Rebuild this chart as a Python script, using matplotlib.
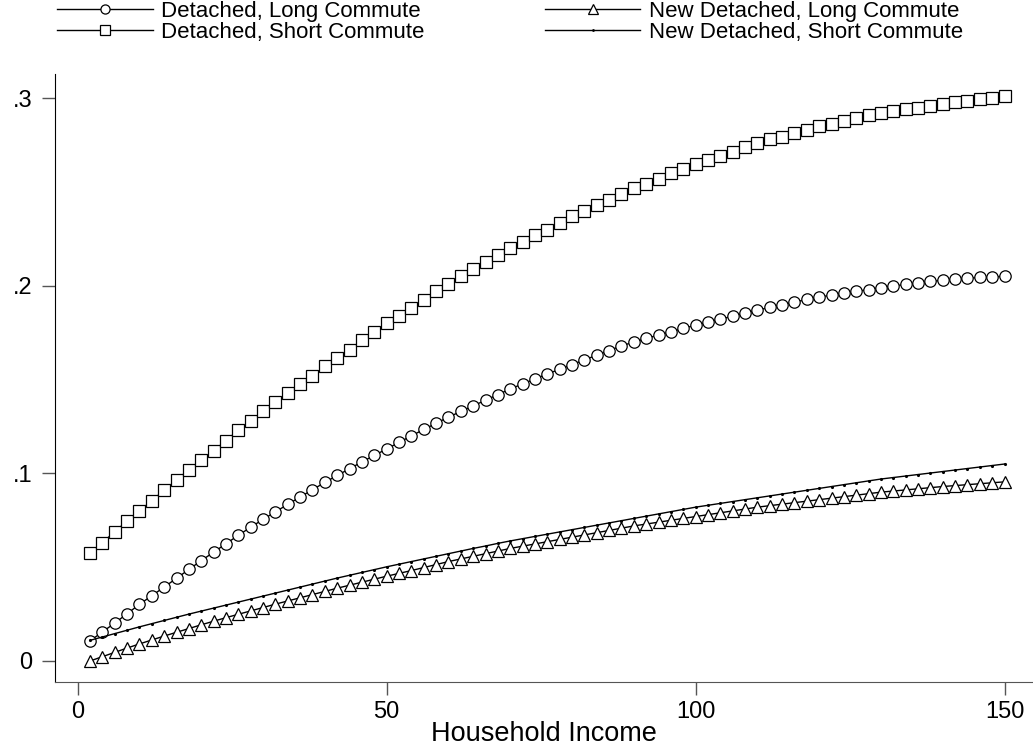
import matplotlib
matplotlib.use("Agg")
import matplotlib.pyplot as plt

plt.rcParams['font.family'] = ['Liberation Sans', 'DejaVu Sans']

# household income grid (thousands)
income = list(range(2, 151, 2))

detached_long = [
    0.0107, 0.0155, 0.0202, 0.0252, 0.0302, 0.0348, 0.0394, 0.0441, 0.0488, 0.0535,
    0.0580, 0.0625, 0.0670, 0.0713, 0.0755, 0.0795, 0.0835, 0.0874, 0.0913, 0.0952,
    0.0989, 0.1025, 0.1061, 0.1096, 0.1130, 0.1165, 0.1200, 0.1234, 0.1267, 0.1300,
    0.1330, 0.1360, 0.1390, 0.1420, 0.1450, 0.1477, 0.1503, 0.1530, 0.1555, 0.1580,
    0.1605, 0.1630, 0.1655, 0.1680, 0.1700, 0.1720, 0.1737, 0.1755, 0.1773, 0.1790,
    0.1806, 0.1822, 0.1838, 0.1854, 0.1870, 0.1885, 0.1899, 0.1913, 0.1927, 0.1940,
    0.1950, 0.1960, 0.1970, 0.1980, 0.1990, 0.1999, 0.2007, 0.2015, 0.2023, 0.2030,
    0.2035, 0.2040, 0.2045, 0.2048, 0.2050,
]

detached_short = [
    0.0576, 0.0630, 0.0690, 0.0745, 0.0800, 0.0855, 0.0910, 0.0965, 0.1020, 0.1070,
    0.1120, 0.1175, 0.1230, 0.1280, 0.1330, 0.1380, 0.1430, 0.1475, 0.1520, 0.1570,
    0.1615, 0.1660, 0.1710, 0.1755, 0.1800, 0.1840, 0.1880, 0.1925, 0.1970, 0.2010,
    0.2050, 0.2090, 0.2125, 0.2165, 0.2200, 0.2235, 0.2270, 0.2300, 0.2335, 0.2370,
    0.2400, 0.2430, 0.2460, 0.2490, 0.2520, 0.2545, 0.2570, 0.2600, 0.2625, 0.2650,
    0.2670, 0.2690, 0.2715, 0.2740, 0.2760, 0.2780, 0.2795, 0.2815, 0.2830, 0.2850,
    0.2865, 0.2880, 0.2895, 0.2910, 0.2920, 0.2930, 0.2940, 0.2950, 0.2960, 0.2970,
    0.2980, 0.2985, 0.2995, 0.3000, 0.3010,
]

new_long = [
    0.0000, 0.0023, 0.0046, 0.0069, 0.0091, 0.0112, 0.0133, 0.0153, 0.0173, 0.0193,
    0.0212, 0.0231, 0.0249, 0.0267, 0.0285, 0.0303, 0.0320, 0.0337, 0.0354, 0.0371,
    0.0388, 0.0404, 0.0420, 0.0436, 0.0452, 0.0467, 0.0482, 0.0498, 0.0514, 0.0530,
    0.0544, 0.0558, 0.0572, 0.0586, 0.0600, 0.0612, 0.0624, 0.0636, 0.0648, 0.0660,
    0.0672, 0.0684, 0.0696, 0.0708, 0.0720, 0.0730, 0.0740, 0.0750, 0.0760, 0.0770,
    0.0780, 0.0790, 0.0800, 0.0810, 0.0820, 0.0828, 0.0836, 0.0844, 0.0852, 0.0860,
    0.0868, 0.0876, 0.0884, 0.0892, 0.0900, 0.0906, 0.0912, 0.0918, 0.0924, 0.0930,
    0.0935, 0.0940, 0.0945, 0.0950, 0.0955,
]

new_short = [
    0.0110, 0.0128, 0.0146, 0.0164, 0.0182, 0.0199, 0.0216, 0.0233, 0.0250, 0.0266,
    0.0282, 0.0298, 0.0314, 0.0330, 0.0346, 0.0362, 0.0378, 0.0394, 0.0410, 0.0426,
    0.0442, 0.0457, 0.0472, 0.0487, 0.0502, 0.0516, 0.0530, 0.0544, 0.0558, 0.0572,
    0.0586, 0.0600, 0.0613, 0.0627, 0.0640, 0.0652, 0.0664, 0.0676, 0.0688, 0.0700,
    0.0712, 0.0724, 0.0736, 0.0748, 0.0760, 0.0772, 0.0784, 0.0796, 0.0808, 0.0820,
    0.0830, 0.0840, 0.0850, 0.0860, 0.0870, 0.0880, 0.0890, 0.0900, 0.0910, 0.0920,
    0.0930, 0.0940, 0.0950, 0.0960, 0.0970, 0.0978, 0.0986, 0.0994, 0.1002, 0.1010,
    0.1018, 0.1026, 0.1034, 0.1042, 0.1050,
]

labels = [
    "Detached, Long Commute",
    "Detached, Short Commute",
    "New Detached, Long Commute",
    "New Detached, Short Commute",
]
x_ticks = [0, 50, 100, 150]
y_ticks = [0, 0.1, 0.2, 0.3]
y_tick_labels = ["0", ".1", ".2", ".3"]

W, H = 1033, 748
fig = plt.figure(figsize=(W / 100, H / 100), dpi=100)
ax = fig.add_axes([55 / W, 66 / H, (W - 55) / W, (682 - 74) / H])

line_kw = dict(color="black", lw=1.0, mfc="white", mec="black", mew=0.9)
ax.plot(income, detached_long, marker="o", ms=8.2, label=labels[0], **line_kw)
ax.plot(income, detached_short, marker="s", ms=8.2, label=labels[1], **line_kw)
ax.plot(income, new_long, marker="^", ms=8.5, label=labels[2], **line_kw)
ax.plot(income, new_short, marker=".", ms=2.5, label=labels[3],
        color="black", lw=1.0)

ax.set_xlim(-3.67, 154.6)
ax.set_ylim(-0.0112, 0.3129)
ax.set_xticks(x_ticks)
ax.set_yticks(y_ticks)
ax.set_yticklabels(y_tick_labels)

for side in ("top", "right"):
    ax.spines[side].set_visible(False)
ax.spines["left"].set_color("black")
ax.spines["bottom"].set_color("#555555")
ax.tick_params(direction="out", length=9.5, width=1, color="#555555",
               labelsize=17)
ax.tick_params(axis="y", pad=7)
ax.tick_params(axis="x", pad=4)
ax.set_xlabel("Household Income", fontsize=19.5, labelpad=-1)

# two-column legend across the top of the figure
fig.legend(loc="upper left", bbox_to_anchor=(57 / W, 1.0 - 1 / H), ncol=2,
           frameon=False, fontsize=16, handlelength=4.3, handletextpad=0.4,
           columnspacing=5.4, labelspacing=0.0, borderpad=0.0,
           borderaxespad=0.0, markerscale=0.8)

fig.savefig("out.png", dpi=100)
